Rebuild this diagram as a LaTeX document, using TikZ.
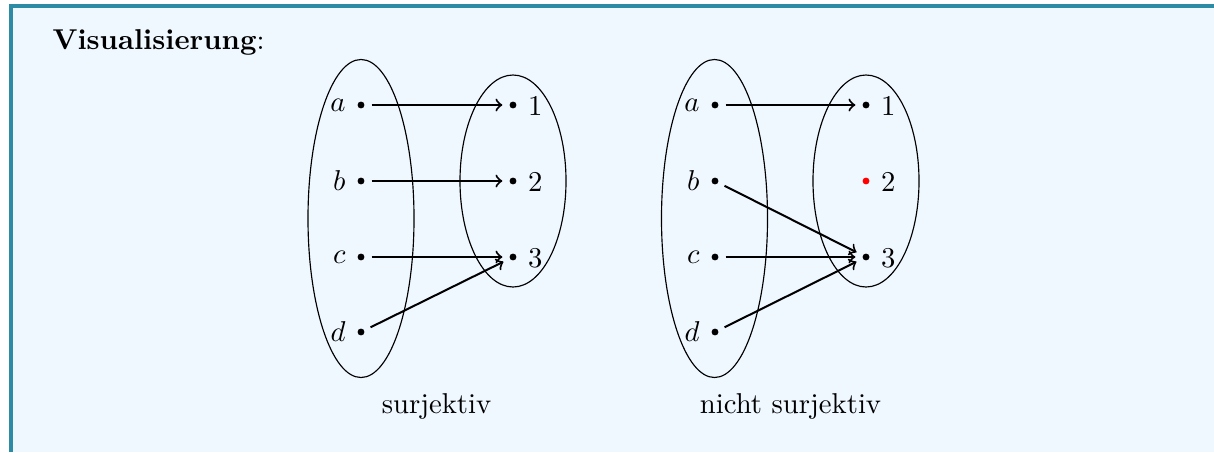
\documentclass[tikz,border=0pt]{standalone}
\definecolor{boxframe}{RGB}{46,139,166}
\definecolor{boxback}{RGB}{240,248,255}
\begin{document}
\begin{tikzpicture}[x=0.3484pt,y=-0.3484pt,
  elem/.style={circle, minimum size=7pt, inner sep=0pt,
    path picture={\fill[#1] (path picture bounding box.center) circle (1.2pt);}},
  elem/.default=black,
  lbl/.style={inner sep=0pt},
  map/.style={->, line width=0.7pt},
  setline/.style={line width=0.4pt}]
\useasboundingbox (0,0) rectangle (1214,452);
\fill[white] (0,0) rectangle (1214,452);
\fill[boxback] (13,8) rectangle (1214,452);
\fill[boxframe] (9,4) rectangle (1214,8);
\fill[boxframe] (9,4) rectangle (13,452);

\node[anchor=base west, inner sep=0pt] (title) at (52,49) {\textbf{Visualisierung}:};

% left diagram
\draw[setline] (361,218.5) ellipse [x radius=18.47pt, y radius=55.4pt];
\draw[setline] (513,181) ellipse [x radius=18.47pt, y radius=36.93pt];
\node[elem] (la) at (361,105) {};
\node[elem] (lb) at (361,181) {};
\node[elem] (lc) at (361,257) {};
\node[elem] (ld) at (361,332) {};
\node[elem] (l1) at (513,105) {};
\node[elem] (l2) at (513,181) {};
\node[elem] (l3) at (513,257) {};
\node[lbl, anchor=east] (la-t) at ([xshift=-1.5pt]la.west) {$a$};
\node[lbl, anchor=east] (lb-t) at ([xshift=-1.5pt]lb.west) {$b$};
\node[lbl, anchor=east] (lc-t) at ([xshift=-1.5pt]lc.west) {$c$};
\node[lbl, anchor=east] (ld-t) at ([xshift=-1.5pt]ld.west) {$d$};
\node[lbl, anchor=west] (l1-t) at ([xshift=1.4pt,yshift=-0.6pt]l1.east) {$1$};
\node[lbl, anchor=west] (l2-t) at ([xshift=1.4pt,yshift=-0.6pt]l2.east) {$2$};
\node[lbl, anchor=west] (l3-t) at ([xshift=1.4pt,yshift=-0.6pt]l3.east) {$3$};
\draw[map] (la) -- (l1);
\draw[map] (lb) -- (l2);
\draw[map] (lc) -- (l3);
\draw[map] (ld) -- (l3);
\node[anchor=base, inner sep=0pt] (lcap) at (436.5,413) {surjektiv};

% right diagram
\draw[setline] (714.5,218.5) ellipse [x radius=18.47pt, y radius=55.4pt];
\draw[setline] (866,181) ellipse [x radius=18.47pt, y radius=36.93pt];
\node[elem] (ra) at (715,105) {};
\node[elem] (rb) at (715,181) {};
\node[elem] (rc) at (715,257) {};
\node[elem] (rd) at (715,332) {};
\node[elem] (r1) at (866,105) {};
\node[elem=red] (r2) at (866,181) {};
\node[elem] (r3) at (866,257) {};
\node[lbl, anchor=east] (ra-t) at ([xshift=-1.5pt]ra.west) {$a$};
\node[lbl, anchor=east] (rb-t) at ([xshift=-1.5pt]rb.west) {$b$};
\node[lbl, anchor=east] (rc-t) at ([xshift=-1.5pt]rc.west) {$c$};
\node[lbl, anchor=east] (rd-t) at ([xshift=-1.5pt]rd.west) {$d$};
\node[lbl, anchor=west] (r1-t) at ([xshift=1.4pt,yshift=-0.6pt]r1.east) {$1$};
\node[lbl, anchor=west] (r2-t) at ([xshift=1.4pt,yshift=-0.6pt]r2.east) {$2$};
\node[lbl, anchor=west] (r3-t) at ([xshift=1.4pt,yshift=-0.6pt]r3.east) {$3$};
\draw[map] (ra) -- (r1);
\draw[map] (rb) -- (r3);
\draw[map] (rc) -- (r3);
\draw[map] (rd) -- (r3);
\node[anchor=base, inner sep=0pt] (rcap) at (790.5,413) {nicht surjektiv};
\end{tikzpicture}
\end{document}
